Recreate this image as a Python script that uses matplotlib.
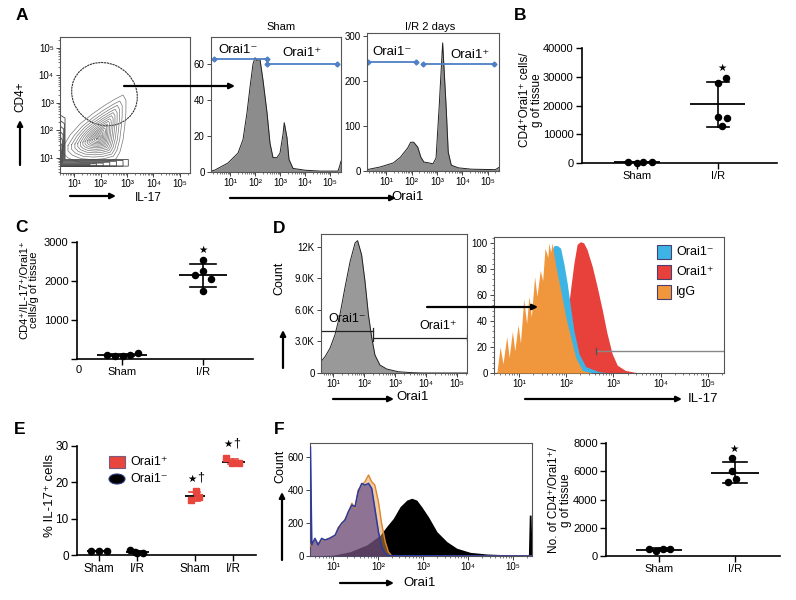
import numpy as np
import matplotlib
matplotlib.use('Agg')
import matplotlib.pyplot as plt
from matplotlib.patches import Ellipse, Rectangle, FancyArrowPatch

plt.rcParams['font.family'] = ['Liberation Sans', 'DejaVu Sans']

# ======================= DATA =======================
# --- Panel A: contour plot (log10 units) ---
gate_center = (2.15, 3.32)
gate_size = (2.53, 2.25)
contour_outer_x = [0.58, 0.85, 1.22, 1.68, 2.17, 2.55, 2.85, 2.96, 2.96, 2.92, 2.85, 2.73, 2.58, 2.17, 1.68, 1.15, 0.77, 0.58]
contour_outer_y = [1.40, 1.83, 2.23, 2.59, 2.92, 3.14, 3.29, 3.10, 2.67, 2.20, 1.65, 1.21, 0.96, 0.85, 0.81, 0.85, 1.00, 1.18]
contour_center = (1.95, 1.72)
contour_levels = [1.0, 0.86, 0.76, 0.67, 0.59, 0.52, 0.45, 0.39, 0.33, 0.28, 0.23, 0.18, 0.13, 0.08, 0.04]
pile_top = [2.55, 2.35, 2.15, 1.95, 1.75, 1.55, 1.35]
pile_right = [3.05, 2.85, 2.6, 2.35, 2.1, 1.85, 1.6]
pile_w = [0.17, 0.145, 0.12, 0.095, 0.07, 0.05, 0.03]

# --- Panel A: histograms (log10 Orai1, count) ---
sham_x = [0.24, 0.40, 0.92, 1.32, 1.52, 1.68, 1.80, 1.92, 2.00, 2.08, 2.20, 2.32, 2.48, 2.60, 2.72, 2.88, 3.00, 3.12, 3.17, 3.28, 3.36, 3.52, 4.00, 4.60, 5.08, 5.32, 5.38, 5.44]
sham_y = [0.5, 1.1, 5, 10.5, 18, 33, 47, 60, 63.5, 62, 62.5, 51, 33, 16, 8, 8, 10.5, 21, 27.4, 19, 7, 2, 1, 0.5, 0.5, 0.5, 3, 6]
ir_x = [0.24, 0.76, 1.28, 1.56, 1.84, 1.96, 2.08, 2.24, 2.36, 2.48, 2.68, 2.84, 2.96, 3.08, 3.22, 3.36, 3.44, 3.56, 3.84, 4.36, 5.30, 5.44]
ir_y = [3, 9, 18, 31, 51, 64, 64, 53, 31, 20, 18, 16, 29, 140, 285, 140, 42, 13, 7, 4, 3, 8]

# --- Panel B ---
b_cats = ['Sham', 'I/R']
b_sham = [300, 100, 200, 400]
b_ir = [29670, 27700, 16100, 15550, 12870]

# --- Panel C ---
c_cats = ['Sham', 'I/R']
c_sham = [115, 85, 80, 105, 150]
c_ir = [2550, 2250, 2150, 2050, 1750]

# --- Panel D left: Orai1 histogram ---
dl_x = [0.61, 0.74, 0.90, 1.06, 1.22, 1.38, 1.55, 1.71, 1.79, 1.92, 2.03, 2.14, 2.25, 2.35, 2.51, 2.73, 3.10, 3.54, 3.86, 5.32]
dl_y = [1080, 1550, 2350, 3620, 5520, 8060, 10600, 12350, 12570, 11230, 8690, 5520, 3300, 1710, 760, 380, 120, 30, 0, 0]

# --- Panel D right: IL-17 histograms (% of max) ---
igg_x = [0.47, 0.53, 0.60, 0.66, 0.74, 0.79, 0.86, 0.91, 0.98, 1.03, 1.10, 1.16, 1.21, 1.26, 1.33, 1.38, 1.45, 1.50, 1.55, 1.61, 1.63, 1.67, 1.70, 1.78, 1.88, 1.99, 2.09, 2.20, 2.34, 2.55, 5.34]
igg_y = [0, 0, 20, 7, 28, 12, 32, 17, 37, 23, 57, 38, 59, 43, 74, 59, 79, 71, 96, 89, 100, 93, 100, 82, 64, 43, 28, 12, 2, 0, 0]
neg_x = [0.47, 1.00, 1.30, 1.50, 1.60, 1.67, 1.74, 1.81, 1.88, 1.95, 2.02, 2.09, 2.16, 2.27, 2.41, 2.69, 2.97, 5.34]
neg_y = [0, 5, 20, 60, 85, 92, 98, 98, 96, 84, 69, 51, 33, 15, 5, 1, 0, 0]
pos_x = [0.80, 1.50, 1.90, 2.05, 2.09, 2.16, 2.23, 2.30, 2.37, 2.44, 2.55, 2.65, 2.76, 2.86, 2.97, 3.08, 3.25, 3.53, 5.34]
pos_y = [0, 5, 30, 52, 64, 84, 99, 101, 100, 95, 82, 67, 49, 31, 15, 6, 2, 0, 0]
d_legend = ['Orai1⁻', 'Orai1⁺', 'IgG']

# --- Panel E ---
e_cats = ['Sham', 'I/R', 'Sham', 'I/R']
e_neg_sham = [1.1, 1.0, 1.0]
e_neg_ir = [1.3, 0.5, 0.6, 0.8]
e_pos_sham = [17.5, 15.1, 16.0]
e_pos_ir = [26.6, 25.4, 25.2]

# --- Panel F left: Orai1 histograms ---
fp_x = [0.49, 0.50, 0.53, 0.60, 0.67, 0.75, 0.82, 0.93, 1.05, 1.12, 1.19, 1.27, 1.34, 1.42, 1.49, 1.56, 1.64, 1.71, 1.79, 1.86, 1.93, 2.01, 2.08, 2.16, 2.23, 5.42]
fp_y = [662, 662, 67, 107, 67, 107, 97, 107, 127, 168, 198, 218, 268, 309, 299, 390, 440, 430, 440, 410, 289, 147, 56, 16, 2, 0]
fo_x = [0.49, 0.53, 0.60, 0.67, 0.75, 0.82, 0.93, 1.05, 1.12, 1.19, 1.27, 1.34, 1.42, 1.49, 1.56, 1.64, 1.71, 1.79, 1.86, 1.93, 2.01, 2.08, 2.16, 2.23, 2.30, 5.42]
fo_y = [60, 80, 100, 75, 100, 95, 110, 125, 175, 190, 225, 260, 320, 290, 400, 430, 450, 491, 450, 430, 329, 198, 87, 26, 2, 0]
fb_x = [0.49, 1.00, 1.38, 1.75, 2.05, 2.19, 2.34, 2.49, 2.64, 2.75, 2.86, 2.97, 3.12, 3.31, 3.53, 3.75, 4.05, 4.42, 5.01, 5.34, 5.36, 5.40, 5.42]
fb_y = [0, 5, 26, 67, 127, 178, 228, 299, 339, 350, 339, 299, 238, 147, 87, 47, 22, 12, 6, 6, 248, 248, 0]

# --- Panel F right ---
f_cats = ['Sham', 'I/R']
f_sham = [490, 320, 480, 500]
f_ir = [6917, 6040, 5430, 5218]

# ======================= FIGURE =======================
W, H = 796, 600
fig = plt.figure(figsize=(W / 100, H / 100), dpi=100)


def fx(x):
    return x / W


def fy(y):
    return 1 - y / H


def px_axes(l, t, r, b):
    return fig.add_axes([l / W, 1 - b / H, (r - l) / W, (b - t) / H])


def ftext(x, y, s, ha='center', va='center', **kw):
    fig.text(fx(x), fy(y), s, ha=ha, va=va, **kw)


def farrow(x1, y1, x2, y2, lw=1.6):
    fig.add_artist(FancyArrowPatch((fx(x1), fy(y1)), (fx(x2), fy(y2)), transform=fig.transFigure,
                                   arrowstyle='-|>', mutation_scale=8, lw=lw, color='black',
                                   shrinkA=0, shrinkB=0, zorder=20))


SUP = ['10¹', '10²', '10³', '10⁴', '10⁵']


def log_minor(lim):
    minor = [n + np.log10(k) for n in range(0, 6) for k in range(2, 10)]
    return [m for m in minor if lim[0] <= m <= lim[1]]


def flow_axes(ax, xlim, ylim, yticks=None, ylabels=None, logy=False):
    ax.set_xlim(xlim)
    ax.set_ylim(ylim)
    ax.set_xticks([1, 2, 3, 4, 5])
    ax.set_xticklabels(SUP)
    ax.set_xticks(log_minor(xlim), minor=True)
    if logy:
        ax.set_yticks([1, 2, 3, 4, 5])
        ax.set_yticklabels(SUP)
        ax.set_yticks(log_minor(ylim), minor=True)
    else:
        ax.set_yticks(yticks)
        if ylabels is not None:
            ax.set_yticklabels(ylabels)
    for s in ax.spines.values():
        s.set_color('#555555')
        s.set_linewidth(0.8)
    ax.tick_params(which='major', direction='out', length=3, width=0.7, labelsize=7, pad=1.5, color='#444444')
    ax.tick_params(which='minor', direction='out', length=1.5, width=0.5, color='#444444')


def prism(ax, xlim, ylim, yticks, pos, cats, ylabels=None, fs=8):
    ax.set_xlim(xlim)
    ax.set_ylim(ylim)
    ax.spines[['top', 'right']].set_visible(False)
    for s in ['left', 'bottom']:
        ax.spines[s].set_linewidth(1.2)
    ax.set_yticks(yticks)
    if ylabels is not None:
        ax.set_yticklabels(ylabels)
    ax.set_xticks(pos)
    ax.set_xticklabels(cats)
    ax.tick_params(direction='out', length=4, width=1.0, labelsize=fs, pad=2)
    ax.patch.set_alpha(0)


def dots(ax, x0, vals, offs, color='black', marker='o', ms=4.4, mhw=0.3, shw=0.15,
         mcolor='black', scolor='black'):
    v = np.array(vals, dtype=float)
    m = v.mean()
    s = v.std(ddof=1)
    ax.plot([x0 - mhw, x0 + mhw], [m, m], color=mcolor, lw=1.3, zorder=2, solid_capstyle='butt')
    ax.plot([x0, x0], [m - s, m + s], color=scolor, lw=1.2, zorder=2)
    ax.plot([x0 - shw, x0 + shw], [m + s, m + s], color=scolor, lw=1.2, zorder=2)
    ax.plot([x0 - shw, x0 + shw], [m - s, m - s], color=scolor, lw=1.2, zorder=2)
    ax.plot(x0 + np.array(offs), v, marker, color=color, ms=ms, ls='none', zorder=3, clip_on=False)


def star(ax, x, y, fs=7.5):
    ax.text(x, y, '★', ha='center', va='center', fontsize=fs, family='DejaVu Sans', clip_on=False)


# ---------------- Panel A: contour ----------------
axc = px_axes(60, 37, 190, 173)
flow_axes(axc, (0.47, 5.38), (0.45, 5.40), logy=True)
cx, cy = contour_center
ox = np.array(contour_outer_x)
oy = np.array(contour_outer_y)
for s in contour_levels:
    xs = np.append(cx + s * (ox - cx), cx + s * (ox[0] - cx))
    ys = np.append(cy + s * (oy - cy), cy + s * (oy[0] - cy))
    axc.plot(xs, ys, color='#777777', lw=0.5)
for t, r, w in zip(pile_top, pile_right, pile_w):
    xs = [0.49, 0.49 + w, 0.49 + w, r, r, 0.49, 0.49]
    ys = [t, t - 0.1, 0.72 + w * 1.3, 0.72 + w * 1.3, 0.70, 0.70, t]
    axc.plot(xs, ys, color='#444444', lw=0.6)
axc.add_patch(Ellipse(gate_center, gate_size[0], gate_size[1], angle=-25, fill=False,
                      edgecolor='#333333', lw=0.8, linestyle=(0, (2, 0.6))))

# ---------------- Panel A: histograms ----------------
axs = px_axes(211, 37, 341, 172)
flow_axes(axs, (0.24, 5.44), (0, 75), yticks=[0, 20, 40, 60])
axs.fill_between(sham_x, sham_y, color='#8c8c8c', lw=0)
axs.plot(sham_x, sham_y, color='#222222', lw=0.7)
gc = '#4f7fc4'
axs.plot([0.36, 2.48], [62.8, 62.8], color=gc, lw=1.3, marker='D', ms=2.5)
axs.plot([2.48, 5.28], [60.2, 60.2], color=gc, lw=1.3, marker='D', ms=2.5)
axs.plot([2.48, 2.48], [60.2, 62.8], color=gc, lw=1.0)

axi = px_axes(367, 33, 499, 171)
flow_axes(axi, (0.24, 5.44), (0, 307), yticks=[0, 100, 200, 300])
axi.fill_between(ir_x, ir_y, color='#8c8c8c', lw=0)
axi.plot(ir_x, ir_y, color='#222222', lw=0.7)
axi.plot([0.26, 2.16], [242, 242], color=gc, lw=1.3, marker='D', ms=2.5)
axi.plot([2.44, 5.24], [239, 239], color=gc, lw=1.3, marker='D', ms=2.5)

ftext(281, 27, 'Sham', fontsize=8)
ftext(430, 27, 'I/R 2 days', fontsize=8)
ftext(238, 50, 'Orai1⁻', fontsize=9.5)
ftext(302, 53, 'Orai1⁺', fontsize=9.5)
ftext(392, 52, 'Orai1⁻', fontsize=9.5)
ftext(470, 55, 'Orai1⁺', fontsize=9.5)

farrow(124, 86, 235, 86)
ftext(20, 97, 'CD4+', fontsize=8.5, rotation=90)
farrow(20, 165, 20, 120)
farrow(70, 196, 116, 196)
ftext(148, 198, 'IL-17', fontsize=8.5)
farrow(230, 198, 396, 198)
ftext(408, 197, 'Orai1', fontsize=9.5)

# ---------------- Panel B ----------------
axb = px_axes(582, 48, 777, 163)
prism(axb, (-0.68, 1.73), (0, 40000), [0, 10000, 20000, 30000, 40000], [0, 1], b_cats)
dots(axb, 0, b_sham, [-0.11, 0, 0.07, 0.19], mhw=0.28)
dots(axb, 1, b_ir, [0.1, 0, 0, 0.11, 0.05], mhw=0.34, shw=0.14)
star(axb, 1.05, 32900)
ftext(531, 100, 'CD4⁺Orai1⁺ cells/\ng of tissue', fontsize=8.5, rotation=90, linespacing=1.0)

# ---------------- Panel C ----------------
axcc = px_axes(77, 242, 253, 359)
prism(axcc, (-0.556, 1.617), (0, 3000), [0, 1000, 2000, 3000], [0, 1], c_cats,
      ylabels=['', '1000', '2000', '3000'])
dots(axcc, 0, c_sham, [-0.19, -0.09, 0.01, 0.10, 0.2], mhw=0.31)
dots(axcc, 1, c_ir, [0.0, 0.0, -0.1, 0.1, 0.0], mhw=0.3, shw=0.16)
star(axcc, 1.0, 2800)
ftext(79, 370, '0', fontsize=8)
ftext(29, 290, 'CD4⁺/IL-17⁺/Orai1⁺\ncells/g of tissue', fontsize=8, rotation=90, linespacing=1.0)

# ---------------- Panel D left ----------------
axdl = px_axes(321, 234, 467, 373)
flow_axes(axdl, (0.61, 5.32), (0, 13200), yticks=[0, 3000, 6000, 9000, 12000],
          ylabels=['0', '3.0K', '6.0K', '9.0K', '12K'])
axdl.fill_between(dl_x, dl_y, color='#999999', lw=0)
axdl.plot(dl_x, dl_y, color='#222222', lw=0.7)
axdl.plot([0.61, 2.30], [4000, 4000], color='#222222', lw=0.9)
axdl.plot([2.30, 2.30], [3720, 4280], color='#222222', lw=0.9)
axdl.plot([2.30, 5.31], [3360, 3360], color='#222222', lw=0.9)
axdl.plot([2.30, 2.30], [3080, 3640], color='#222222', lw=0.9)
axdl.plot([5.31, 5.31], [3080, 3640], color='#222222', lw=0.9)
ftext(347, 319, 'Orai1⁻', fontsize=9)
ftext(438, 326, 'Orai1⁺', fontsize=9)
ftext(279, 278, 'Count', fontsize=9, rotation=90)
farrow(283, 368, 283, 330)
farrow(333, 399, 394, 399)
ftext(413, 397, 'Orai1', fontsize=9.5)

# ---------------- Panel D right ----------------
axdr = px_axes(494, 237, 724, 373)
flow_axes(axdr, (0.47, 5.34), (0, 104.6), yticks=[0, 20, 40, 60, 80, 100])
axdr.fill_between(pos_x, pos_y, color='#e8403a', lw=0, zorder=1)
axdr.fill_between(neg_x, neg_y, color='#3cb4e6', lw=0, zorder=2)
axdr.fill_between(igg_x, igg_y, color='#f0963c', lw=0, zorder=3)
axdr.plot([2.63, 5.34], [17, 17], color='#888888', lw=1.0, zorder=4)
axdr.plot([2.63, 2.63], [14.5, 19.5], color='#555555', lw=1.0, zorder=4)
axdr.yaxis.set_minor_locator(matplotlib.ticker.MultipleLocator(4))
legend_cols = ['#3cb4e6', '#e8403a', '#f0963c']
for i, (lab, col) in enumerate(zip(d_legend, legend_cols)):
    yy = 252 + 20 * i
    fig.add_artist(Rectangle((fx(657), fy(yy + 7)), 14 / W, 14 / H, transform=fig.transFigure,
                             facecolor=col, edgecolor='#4a4070', lw=0.8, zorder=15))
    ftext(676, yy, lab, ha='left', fontsize=9)
farrow(427, 307, 538, 307)
farrow(525, 399, 682, 399)
ftext(703, 399, 'IL-17', fontsize=9.5)

# ---------------- Panel E ----------------
axe = px_axes(77, 446, 256, 555)
e_pos = [0, 1, 2.5, 3.5]
prism(axe, (-0.574, 4.10), (0, 30), [0, 10, 20, 30], e_pos, e_cats, fs=8.5)
red = '#e8453c'
dots(axe, 0, e_neg_sham, [-0.22, 0.0, 0.22], mhw=0.3, ms=4.5)
dots(axe, 1, e_neg_ir, [-0.2, 0.0, 0.15, -0.05], mhw=0.3, ms=4.5)
dots(axe, 2.5, e_pos_sham, [0.03, -0.09, 0.1], color=red, marker='s', ms=4.5, mhw=0.26, shw=0.14,
     mcolor='black', scolor=red)
dots(axe, 3.5, e_pos_ir, [-0.18, -0.02, 0.16], color=red, marker='s', ms=4.5, mhw=0.3, shw=0.14,
     mcolor='black', scolor=red)
star(axe, 2.42, 21.0, fs=7.5)
axe.text(2.66, 21.2, '†', ha='center', va='center', fontsize=9, clip_on=False)
star(axe, 3.38, 30.6, fs=7.5)
axe.text(3.6, 30.8, '†', ha='center', va='center', fontsize=9, clip_on=False)
fig.add_artist(Rectangle((fx(109), fy(468)), 16 / W, 12 / H, transform=fig.transFigure,
                         facecolor=red, edgecolor='#7a5a80', lw=0.8, zorder=15))
fig.add_artist(Ellipse((fx(117), fy(479)), 16 / W, 10 / H, transform=fig.transFigure,
                       facecolor='black', edgecolor='#2a3a80', lw=0.8, zorder=15))
ftext(130, 462, 'Orai1⁺', ha='left', fontsize=9)
ftext(130, 479, 'Orai1⁻', ha='left', fontsize=9)
ftext(50, 495, '% IL-17⁺ cells', fontsize=9.5, rotation=90)

# ---------------- Panel F left ----------------
axfl = px_axes(310, 443, 532, 556)
flow_axes(axfl, (0.49, 5.42), (0, 685), yticks=[0, 200, 400, 600])
axfl.fill_between(fb_x, fb_y, color='black', lw=0, zorder=1)
axfl.fill_between(fo_x, fo_y, color='#e89a4a', alpha=0.5, lw=0, zorder=2)
axfl.fill_between(fp_x, fp_y, color='#45348a', alpha=0.58, lw=0, zorder=3)
axfl.plot(fo_x, fo_y, color='#d9862e', lw=1.0, zorder=4)
axfl.plot(fp_x, fp_y, color='#2a3aa0', lw=1.1, zorder=5)
ftext(280, 466, 'Count', fontsize=9, rotation=90)
farrow(282, 560, 282, 492)
farrow(340, 583, 394, 583)
ftext(420, 583, 'Orai1', fontsize=9.5)

# ---------------- Panel F right ----------------
axfr = px_axes(606, 443, 780, 556)
prism(axfr, (-0.70, 1.59), (0, 8000), [0, 2000, 4000, 6000, 8000], [0, 1], f_cats)
dots(axfr, 0, f_sham, [-0.14, -0.04, 0.05, 0.14], mhw=0.3)
dots(axfr, 1, f_ir, [-0.04, -0.04, 0.01, -0.09], mhw=0.32, shw=0.16)
star(axfr, 0.98, 7550)
ftext(560, 500, 'No. of CD4⁺/Orai1⁺/\ng of tissue', fontsize=8.5, rotation=90, linespacing=1.0)

# ---------------- panel letters ----------------
for lab, x, y in [('A', 22, 15), ('B', 520, 15), ('C', 22, 228), ('D', 279, 229), ('E', 20, 430), ('F', 279, 430)]:
    ftext(x, y, lab, fontsize=12.5, fontweight='bold')

fig.savefig('out.png', dpi=100)
